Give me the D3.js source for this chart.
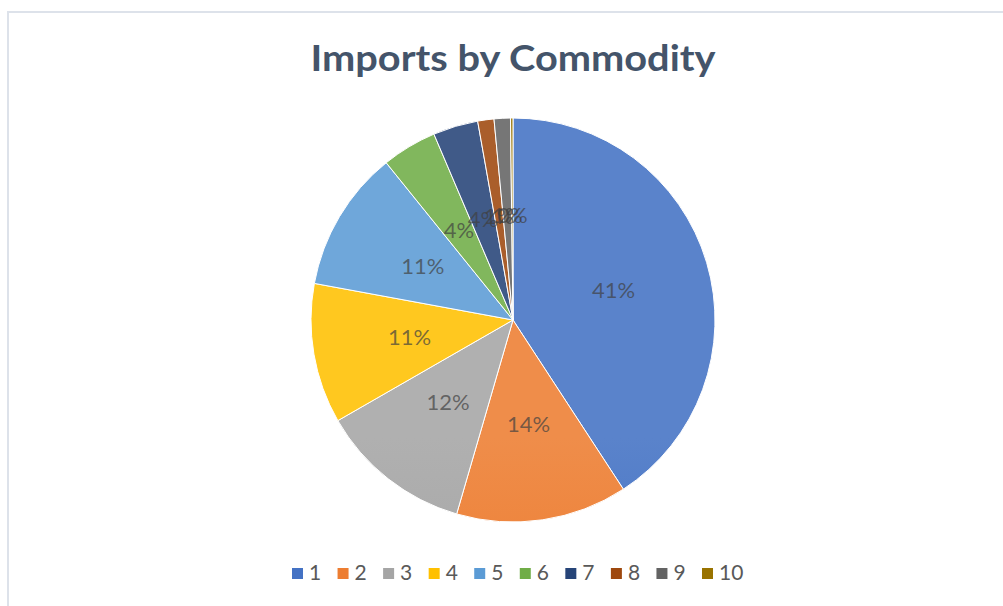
<!DOCTYPE html>
<html lang="en">

<head>
    <script src="https://cdnjs.cloudflare.com/ajax/libs/d3/7.8.5/d3.min.js"></script>
    <style>
        body { margin: 0; background: #fff; }
    </style>
</head>

<body>
    <script>
        var w = 1003;
        var h = 606;

        // data (percent share)
        var categories = ["1", "2", "3", "4", "5", "6", "7", "8", "9", "10"];
        var values = [40.8, 13.7, 12.2, 11.2, 11.3, 4.4, 3.6, 1.3, 1.3, 0.2];
        var colors = ["#4472C4", "#ED7D31", "#A5A5A5", "#FFC000", "#5B9BD5",
            "#70AD47", "#264478", "#9E480E", "#636363", "#997300"];

        var cx = 513, cy = 320, r = 202;

        var svg = d3.select("body").append("svg")
            .attr("width", w)
            .attr("height", h);

        // chart area border
        svg.append("rect")
            .attr("x", 8)
            .attr("y", 12)
            .attr("width", w)
            .attr("height", h)
            .attr("fill", "none")
            .attr("stroke", "#DDE2EA")
            .attr("stroke-width", 2);

        svg.append("text")
            .text("Imports by Commodity")
            .attr("x", cx)
            .attr("y", 71)
            .attr("text-anchor", "middle")
            .attr("textLength", 405)
            .attr("lengthAdjust", "spacingAndGlyphs")
            .attr("font-family", "Lato, sans-serif")
            .attr("font-weight", "bold")
            .attr("font-size", "36px")
            .attr("fill", "#44546A");

        // gradients, lighter at the top of the pie and darker at the bottom
        var defs = svg.append("defs");
        colors.forEach(function (c, i) {
            var g = defs.append("linearGradient")
                .attr("id", "grad" + i)
                .attr("gradientUnits", "userSpaceOnUse")
                .attr("x1", 0).attr("y1", cy - r)
                .attr("x2", 0).attr("y2", cy + r);
            g.append("stop").attr("offset", "0%").attr("stop-color", d3.interpolateRgb(c, "#fff")(0.12));
            g.append("stop").attr("offset", "50%").attr("stop-color", c);
            g.append("stop").attr("offset", "100%").attr("stop-color", d3.interpolateRgb(c, "#000")(0.1));
        });

        var data = categories.map(function (c, i) { return { cat: c, value: values[i], i: i }; });
        var total = d3.sum(values);

        var pie = d3.pie().sort(null).value(d => d.value);
        var arc = d3.arc().innerRadius(0).outerRadius(r);
        var labelArc = d3.arc().innerRadius(r * 0.52).outerRadius(r * 0.52);

        var g = svg.append("g").attr("transform", "translate(" + cx + "," + cy + ")");

        g.selectAll("path")
            .data(pie(data))
            .enter()
            .append("path")
            .attr("d", arc)
            .attr("fill", d => "url(#grad" + d.data.i + ")")
            .attr("stroke", "#fff")
            .attr("stroke-width", 1);

        g.selectAll("text")
            .data(pie(data))
            .enter()
            .append("text")
            .text(d => Math.round(d.data.value / total * 100) + "%")
            .attr("transform", d => "translate(" + labelArc.centroid(d) + ")")
            .attr("dy", "0.35em")
            .attr("text-anchor", "middle")
            .attr("font-family", "Lato, sans-serif")
            .attr("font-size", "22px")
            .attr("fill", "#404040")
            .attr("fill-opacity", 0.7);

        // legend
        var legendX = d3.scalePoint().domain(categories).range([292, 702]);
        var legend = svg.selectAll(".leg")
            .data(data)
            .enter()
            .append("g")
            .attr("class", "leg")
            .attr("transform", d => "translate(" + legendX(d.cat) + ",568)");

        legend.append("rect")
            .attr("width", 11)
            .attr("height", 11)
            .attr("fill", d => colors[d.i]);

        legend.append("text")
            .text(d => d.cat)
            .attr("x", 17)
            .attr("y", 12)
            .attr("font-family", "Lato, sans-serif")
            .attr("font-size", "21px")
            .attr("fill", "#595959");
    </script>
</body>

</html>
